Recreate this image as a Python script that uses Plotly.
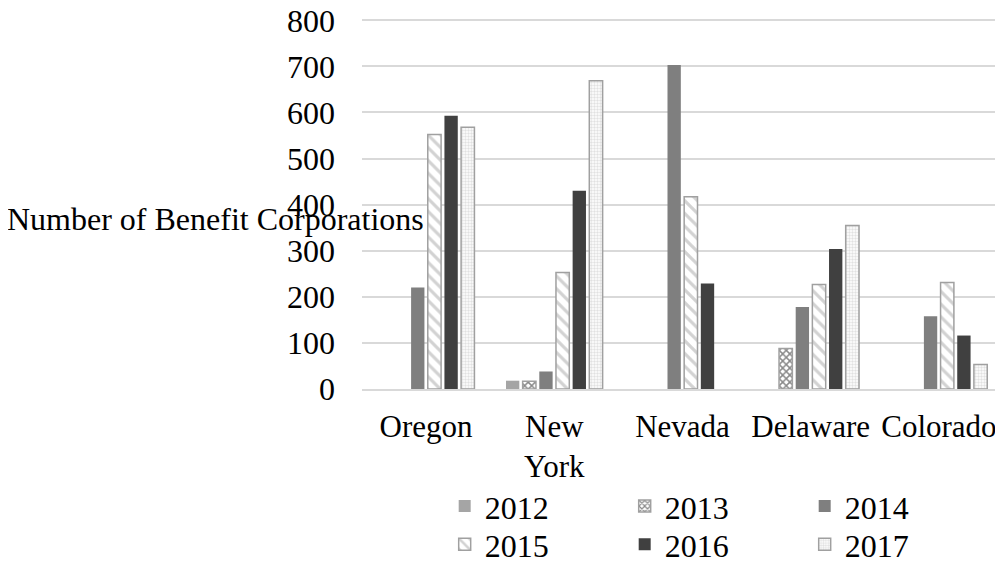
import plotly.graph_objects as go

categories = ["Oregon", "New York", "Nevada", "Delaware", "Colorado"]
category_labels = ["Oregon", "New<br>York", "Nevada", "Delaware", "Colorado"]
years = ["2012", "2013", "2014", "2015", "2016", "2017"]

v2012 = [None, 18, None, None, None]
v2013 = [None, 17, None, 88, None]
v2014 = [220, 38, 703, 178, 158]
v2015 = [552, 253, 417, 227, 231]
v2016 = [593, 430, 229, 304, 116]
v2017 = [568, 669, None, 355, 53]

y_ticks = [0, 100, 200, 300, 400, 500, 600, 700, 800]

series = [v2012, v2013, v2014, v2015, v2016, v2017]

FONT = "Liberation Serif, Times New Roman, serif"
FS = 32
OUTLINE = "#A0A0A0"

styles = [
    dict(color="#A5A5A5", line=dict(width=0)),
    dict(color="white", line=dict(color=OUTLINE, width=1.5),
         pattern=dict(shape="x", fgcolor="#111111", bgcolor="white", size=5, solidity=0.5)),
    dict(color="#7F7F7F", line=dict(width=0)),
    dict(color="white", line=dict(color=OUTLINE, width=1.5),
         pattern=dict(shape="\\", fgcolor="#A5A5A5", bgcolor="white", size=9, solidity=0.35)),
    dict(color="#404040", line=dict(width=0)),
    dict(color="white", line=dict(color=OUTLINE, width=1.5),
         pattern=dict(shape=".", fgcolor="#C4C4C4", bgcolor="white", size=3, solidity=0.5)),
]
legend_ids = ["legend", "legend", "legend", "legend2", "legend2", "legend2"]

fig = go.Figure()
for name, vals, st, lg in zip(years, series, styles, legend_ids):
    fig.add_trace(go.Bar(x=categories, y=vals, name=name, marker=st, legend=lg))

legend_common = dict(orientation="h", xanchor="left", yanchor="top", entrywidth=135,
                     font=dict(family=FONT, size=FS, color="black"),
                     traceorder="normal", itemclick=False, bgcolor="rgba(0,0,0,0)")

# the page body adds an 8px offset, so the figure is 8px smaller on each axis
fig.update_layout(
    width=995, height=555,
    margin=dict(l=354, r=0, t=9.7, b=174, autoexpand=False),
    paper_bgcolor="white", plot_bgcolor="white",
    barmode="group", bargap=0.22, bargroupgap=0.2,
    font=dict(family=FONT, size=FS, color="black"),
    showlegend=True,
    legend=dict(x=0.129, y=-0.242, **legend_common),
    legend2=dict(x=0.129, y=-0.345, **legend_common),
    xaxis=dict(tickvals=categories, ticktext=category_labels, showgrid=False,
               showline=True, automargin=False, linecolor="#D9D9D9", linewidth=1.5,
               ticks="", tickangle=0, ticklabelstandoff=9, ticklabeloverflow="allow",
               tickfont=dict(family=FONT, size=31, color="black")),
    yaxis=dict(range=[0, 805], tickvals=y_ticks, showgrid=True, gridcolor="#D9D9D9",
               gridwidth=1.5, zeroline=False, showline=False, ticks="", automargin=False,
               ticklabelstandoff=26, ticklabeloverflow="allow",
               tickfont=dict(family=FONT, size=FS, color="black")),
    annotations=[dict(text="Number of Benefit Corporations", xref="paper", yref="paper",
                      x=-0.229, y=0.458, xanchor="center", yanchor="middle",
                      showarrow=False, font=dict(family=FONT, size=FS, color="black"))],
)

fig.write_html("out.html")
